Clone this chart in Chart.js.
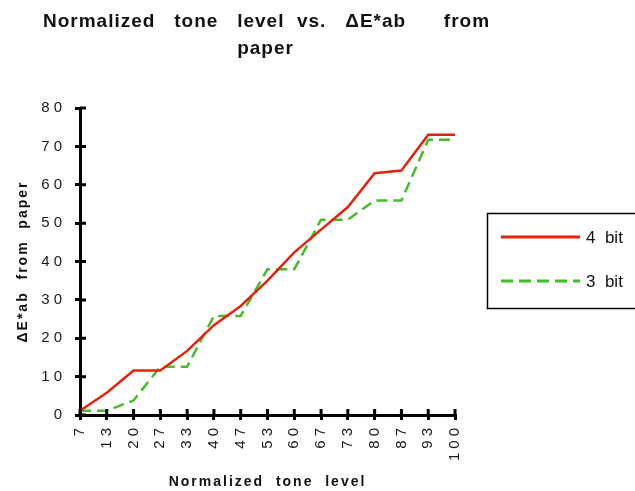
<!DOCTYPE html>
<html>
<head>
<meta charset="utf-8">
<script src="https://cdn.jsdelivr.net/npm/chart.js@4"></script>
<style>
  html,body{margin:0;padding:0;background:#fff;}
  #wrap{width:635px;height:491px;position:relative;}
</style>
</head>
<body>
<div id="wrap"><canvas id="grafico" width="635" height="491"></canvas></div>
<script>
// Dados
const niveis = ["7","13","20","27","33","40","47","53","60","67","73","80","87","93","100"];
const bit4 = [1.1, 5.8, 11.6, 11.6, 16.7, 23.4, 28.4, 35.0, 42.4, 48.3, 54.2, 63.0, 63.7, 73.0, 73.0];
const bit3 = [1.1, 1.1, 3.8, 12.6, 12.6, 25.8, 25.8, 38.0, 38.0, 50.9, 50.9, 55.9, 55.9, 71.7, 71.7];
const nomesSeries = ["4  bit", "3  bit"];
const tituloLinhas = ["Normalized   tone   level  vs.   \u0394E*ab      from", "paper"];

const FONTE = "'Liberation Sans', Arial, sans-serif";

// Plugin: espacamento de letras, titulo, ticks cruzando o eixo e legenda
const extras = {
  id: "extras",
  beforeUpdate(chart){ chart.ctx.letterSpacing = "2px"; },
  beforeDraw(chart){ chart.ctx.letterSpacing = "2px"; },
  // rotulos dos ticks (z=1) sao desenhados depois dos datasets
  afterDatasetsDraw(chart){ chart.ctx.letterSpacing = "4px"; },
  afterDraw(chart){
    const ctx = chart.ctx;
    const xs = chart.scales.x, ys = chart.scales.y;
    const area = chart.chartArea;
    ctx.save();
    ctx.letterSpacing = "0px";
    // ticks para dentro
    ctx.strokeStyle = "#000"; ctx.lineWidth = 3;
    ctx.beginPath();
    xs.ticks.forEach((t,i)=>{
      const px = xs.getPixelForTick(i);
      ctx.moveTo(px, area.bottom); ctx.lineTo(px, area.bottom - 6);
    });
    ys.ticks.forEach((t,i)=>{
      const py = ys.getPixelForTick(i);
      ctx.moveTo(area.left, py); ctx.lineTo(area.left + 6, py);
    });
    ctx.stroke();

    // titulo
    ctx.letterSpacing = "1px";
    ctx.fillStyle = "#111";
    ctx.font = "bold 19px " + FONTE;
    ctx.textAlign = "center"; ctx.textBaseline = "alphabetic";
    const cx = (area.left + area.right) / 2;
    ctx.fillText(tituloLinhas[0], cx - 1, 27);
    ctx.fillText(tituloLinhas[1], cx - 2, 54);

    // legenda
    ctx.letterSpacing = "0px";
    ctx.lineWidth = 1.5; ctx.strokeStyle = "#000";
    ctx.strokeRect(487.5, 213.5, 160, 95);
    ctx.font = "17px " + FONTE; ctx.textAlign = "left"; ctx.textBaseline = "middle";
    chart.data.datasets.forEach((ds,i)=>{
      const y = 237 + i*44;
      ctx.strokeStyle = ds.borderColor; ctx.lineWidth = ds.borderWidth + 0.5;
      ctx.setLineDash(i ? [12,6] : []);
      ctx.beginPath(); ctx.moveTo(501, y); ctx.lineTo(580, y); ctx.stroke();
      ctx.setLineDash([]);
      ctx.fillStyle = "#111";
      ctx.fillText(ds.label, 586, y + 1);
    });
    ctx.restore();
    ctx.letterSpacing = "2px";
  }
};

new Chart(document.getElementById("grafico"), {
  type: "line",
  data: {
    labels: niveis,
    datasets: [
      { label: nomesSeries[0], data: bit4, borderColor: "#e2240c", borderWidth: 2.5, pointRadius: 0, tension: 0, fill: false },
      { label: nomesSeries[1], data: bit3, borderColor: "#47bb2c", borderWidth: 2.5, borderDash: [11,6], pointRadius: 0, tension: 0, fill: false }
    ]
  },
  options: {
    responsive: false,
    animation: false,
    layout: { padding: { top: 108, right: 180, bottom: 0, left: 0 } },
    plugins: { legend: { display: false }, title: { display: false }, tooltip: { enabled: false } },
    scales: {
      x: {
        type: "category",
        offset: false,
        grid: { drawOnChartArea: false, drawTicks: true, tickLength: 5, lineWidth: 3, color: "#000" },
        border: { display: true, width: 3, color: "#000" },
        ticks: { z: 1, minRotation: 90, maxRotation: 90, autoSkip: false, padding: 4, color: "#1a1a1a", font: { family: FONTE, size: 15 } },
        title: { display: true, text: "Normalized  tone  level", color: "#111", padding: { top: 0, bottom: 0 }, font: { family: FONTE, size: 14, weight: "bold" } },
        afterFit(s){ s.height = 76; }
      },
      y: {
        min: 0, max: 80,
        ticks: { z: 1, stepSize: 10, padding: 9, color: "#1a1a1a", font: { family: FONTE, size: 15 } },
        grid: { drawOnChartArea: false, drawTicks: true, tickLength: 5, lineWidth: 3, color: "#000" },
        border: { display: true, width: 3, color: "#000" },
        title: { display: true, text: "\u0394E*ab  from  paper", color: "#111", padding: { top: 15, bottom: 0 }, font: { family: FONTE, size: 14, weight: "bold" } },
        afterFit(s){ s.width = 80; }
      }
    }
  },
  plugins: [extras]
});
</script>
</body>
</html>
